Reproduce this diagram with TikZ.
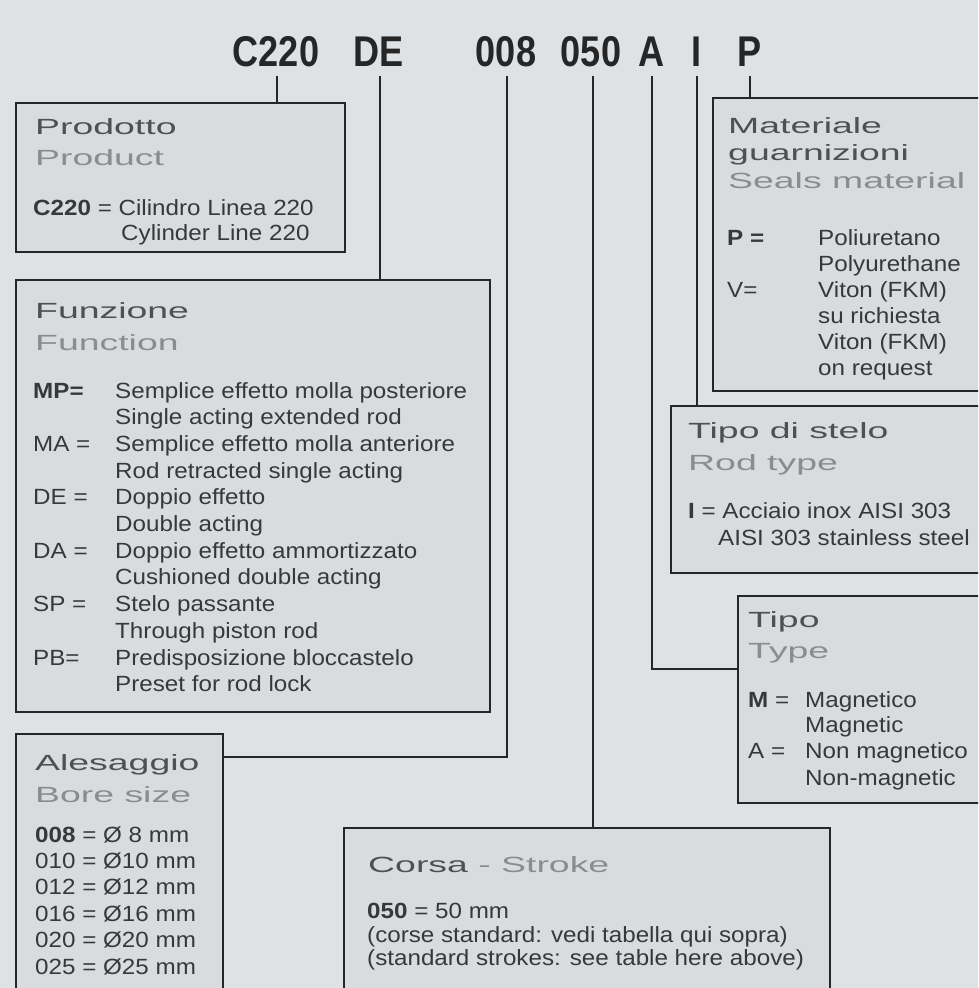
\documentclass[tikz,border=0pt]{standalone}
\usepackage{fontspec}
\setmainfont{Liberation Sans}
\newfontfamily\bodyfont[FakeStretch=1.1]{Liberation Sans}
\newfontfamily\headfont[FakeStretch=1.7]{Liberation Sans}
\newfontfamily\titlefont[FakeStretch=0.84]{Liberation Sans}
\definecolor{bg}{HTML}{DFE2E5}
\definecolor{boxbg}{HTML}{D9DCDF}
\definecolor{edge}{HTML}{262626}
\definecolor{bodyc}{HTML}{383838}
\definecolor{itc}{HTML}{505050}
\definecolor{enc}{HTML}{8A8C8E}
\begin{document}
\begin{tikzpicture}[x=1pt,y=-1pt,
  box/.style={draw=edge, line width=2.4pt, fill=boxbg, inner sep=0, anchor=north west},
  conn/.style={draw=edge, line width=2.4pt},
  txt/.style={anchor=base west, inner sep=0, text=bodyc, font=\bodyfont\fontsize{22}{26}\selectfont},
  hit/.style={anchor=base west, inner sep=0, text=itc, font=\headfont\fontsize{22}{26}\selectfont},
  hen/.style={hit, text=enc},
  code/.style={anchor=base, inner sep=0, text=black!85, font=\titlefont\fontsize{43}{50}\selectfont\bfseries}]
\fill[bg] (0,0) rectangle (978,988);
\useasboundingbox (0,0) rectangle (978,988);
\clip (0,0) rectangle (978,988);

% title code
\node[code] (tC) at (276,66) {C220};
\node[code] (tDE) at (379,66) {DE};
\node[code] (t008) at (506,66) {008};
\node[code] (t050) at (591,66) {050};
\node[code] (tA) at (652,66) {A};
\node[code] (tI) at (697,66) {I};
\node[code] (tP) at (750,66) {P};

% boxes
\node[box, minimum width=329pt, minimum height=149pt] (prod) at (15,102) {};
\node[box, minimum width=474pt, minimum height=432pt] (func) at (15,279) {};
\node[box, minimum width=207pt, minimum height=280pt] (ales) at (15,733) {};
\node[box, minimum width=486pt, minimum height=200pt] (corsa) at (343,827) {};
\node[box, minimum width=290pt, minimum height=293pt] (mat) at (712,97) {};
\node[box, minimum width=330pt, minimum height=167pt] (stelo) at (670,405) {};
\node[box, minimum width=260pt, minimum height=207pt] (tipo) at (737,595) {};

% connectors
\coordinate (kC) at (277,76);
\coordinate (kDE) at (380,76);
\coordinate (k008) at (507,76);
\coordinate (j008) at (507,757);
\coordinate (k050) at (593,76);
\coordinate (kA) at (652,76);
\coordinate (jA) at (652,669);
\coordinate (kI) at (697,76);
\coordinate (kP) at (750,76);
\draw[conn] (kC) -- (kC |- prod.north);
\draw[conn] (kDE) -- (kDE |- func.north);
\draw[conn] (k008) -- (j008) -- (j008 -| ales.east);
\draw[conn] (k050) -- (k050 |- corsa.north);
\draw[conn] (kA) -- (jA) -- (jA -| tipo.west);
\draw[conn] (kI) -- (kI |- stelo.north);
\draw[conn] (kP) -- (kP |- mat.north);

% Prodotto
\node[hit] (prodh1) at (35,134) {Prodotto};
\node[hen] (prodh2) at (35,165) {Product};
\node[txt] (prod1) at (33,215) {\textbf{C220} = Cilindro Linea 220};
\node[txt] (prod2) at (121,240) {Cylinder Line 220};

% Funzione
\node[hit] (funch1) at (35,318) {Funzione};
\node[hen] (funch2) at (35,350) {Function};
\foreach \i/\c in {0/\textbf{MP=}, 2/MA =, 4/DE =, 6/DA =, 8/SP =, 10/PB=}
  \node[txt] (fc\i) at (33,398+26.7*\i) {\c};
\foreach \i/\d in {0/Semplice effetto molla posteriore, 1/Single acting extended rod,
  2/Semplice effetto molla anteriore, 3/Rod retracted single acting,
  4/Doppio effetto, 5/Double acting, 6/Doppio effetto ammortizzato,
  7/Cushioned double acting, 8/Stelo passante, 9/Through piston rod,
  10/Predisposizione bloccastelo, 11/Preset for rod lock}
  \node[txt] (fd\i) at (115,398+26.7*\i) {\d};

% Alesaggio
\node[hit] (alesh1) at (35,770) {Alesaggio};
\node[hen] (alesh2) at (35,802) {Bore size};
\foreach \i/\d in {0/\textbf{008} = Ø 8 mm, 1/010 = Ø10 mm, 2/012 = Ø12 mm,
  3/016 = Ø16 mm, 4/020 = Ø20 mm, 5/025 = Ø25 mm}
  \node[txt] (ad\i) at (35,842+26.4*\i) {\d};

% Corsa
\node[hit] (corsah) at (368,872) {Corsa \textcolor{enc}{- Stroke}};
\node[txt] (cd0) at (367,918) {\textbf{050} = 50 mm};
\node[txt] (cd1) at (367,942) {(corse standard: vedi tabella qui sopra)};
\node[txt] (cd2) at (367,965) {(standard strokes: see table here above)};

% Materiale
\node[hit] (math1) at (728,133) {Materiale};
\node[hit] (math2) at (728,160) {guarnizioni};
\node[hen] (math3) at (728,188) {Seals material};
\node[txt] (mc0) at (727,245) {\textbf{P =}};
\node[txt] (mc2) at (727,297) {V=};
\foreach \i/\d in {0/Poliuretano, 1/Polyurethane, 2/Viton (FKM), 3/su richiesta,
  4/Viton (FKM), 5/on request}
  \node[txt] (md\i) at (818,245+26*\i) {\d};

% Tipo di stelo
\node[hit] (steloh1) at (688,438) {Tipo di stelo};
\node[hen] (steloh2) at (688,470) {Rod type};
\node[txt] (sd0) at (688,518) {\textbf{I} = Acciaio inox AISI 303};
\node[txt] (sd1) at (718,545) {AISI 303 stainless steel};

% Tipo
\node[hit] (tipoh1) at (748,627) {Tipo};
\node[hen] (tipoh2) at (748,658) {Type};
\node[txt] (tc0) at (748,707) {\textbf{M} =};
\node[txt] (tc2) at (748,758) {A =};
\node[txt] (td0) at (805,707) {Magnetico};
\node[txt] (td1) at (805,732) {Magnetic};
\node[txt] (td2) at (805,758) {Non magnetico};
\node[txt] (td3) at (805,785) {Non-magnetic};
\end{tikzpicture}
\end{document}
